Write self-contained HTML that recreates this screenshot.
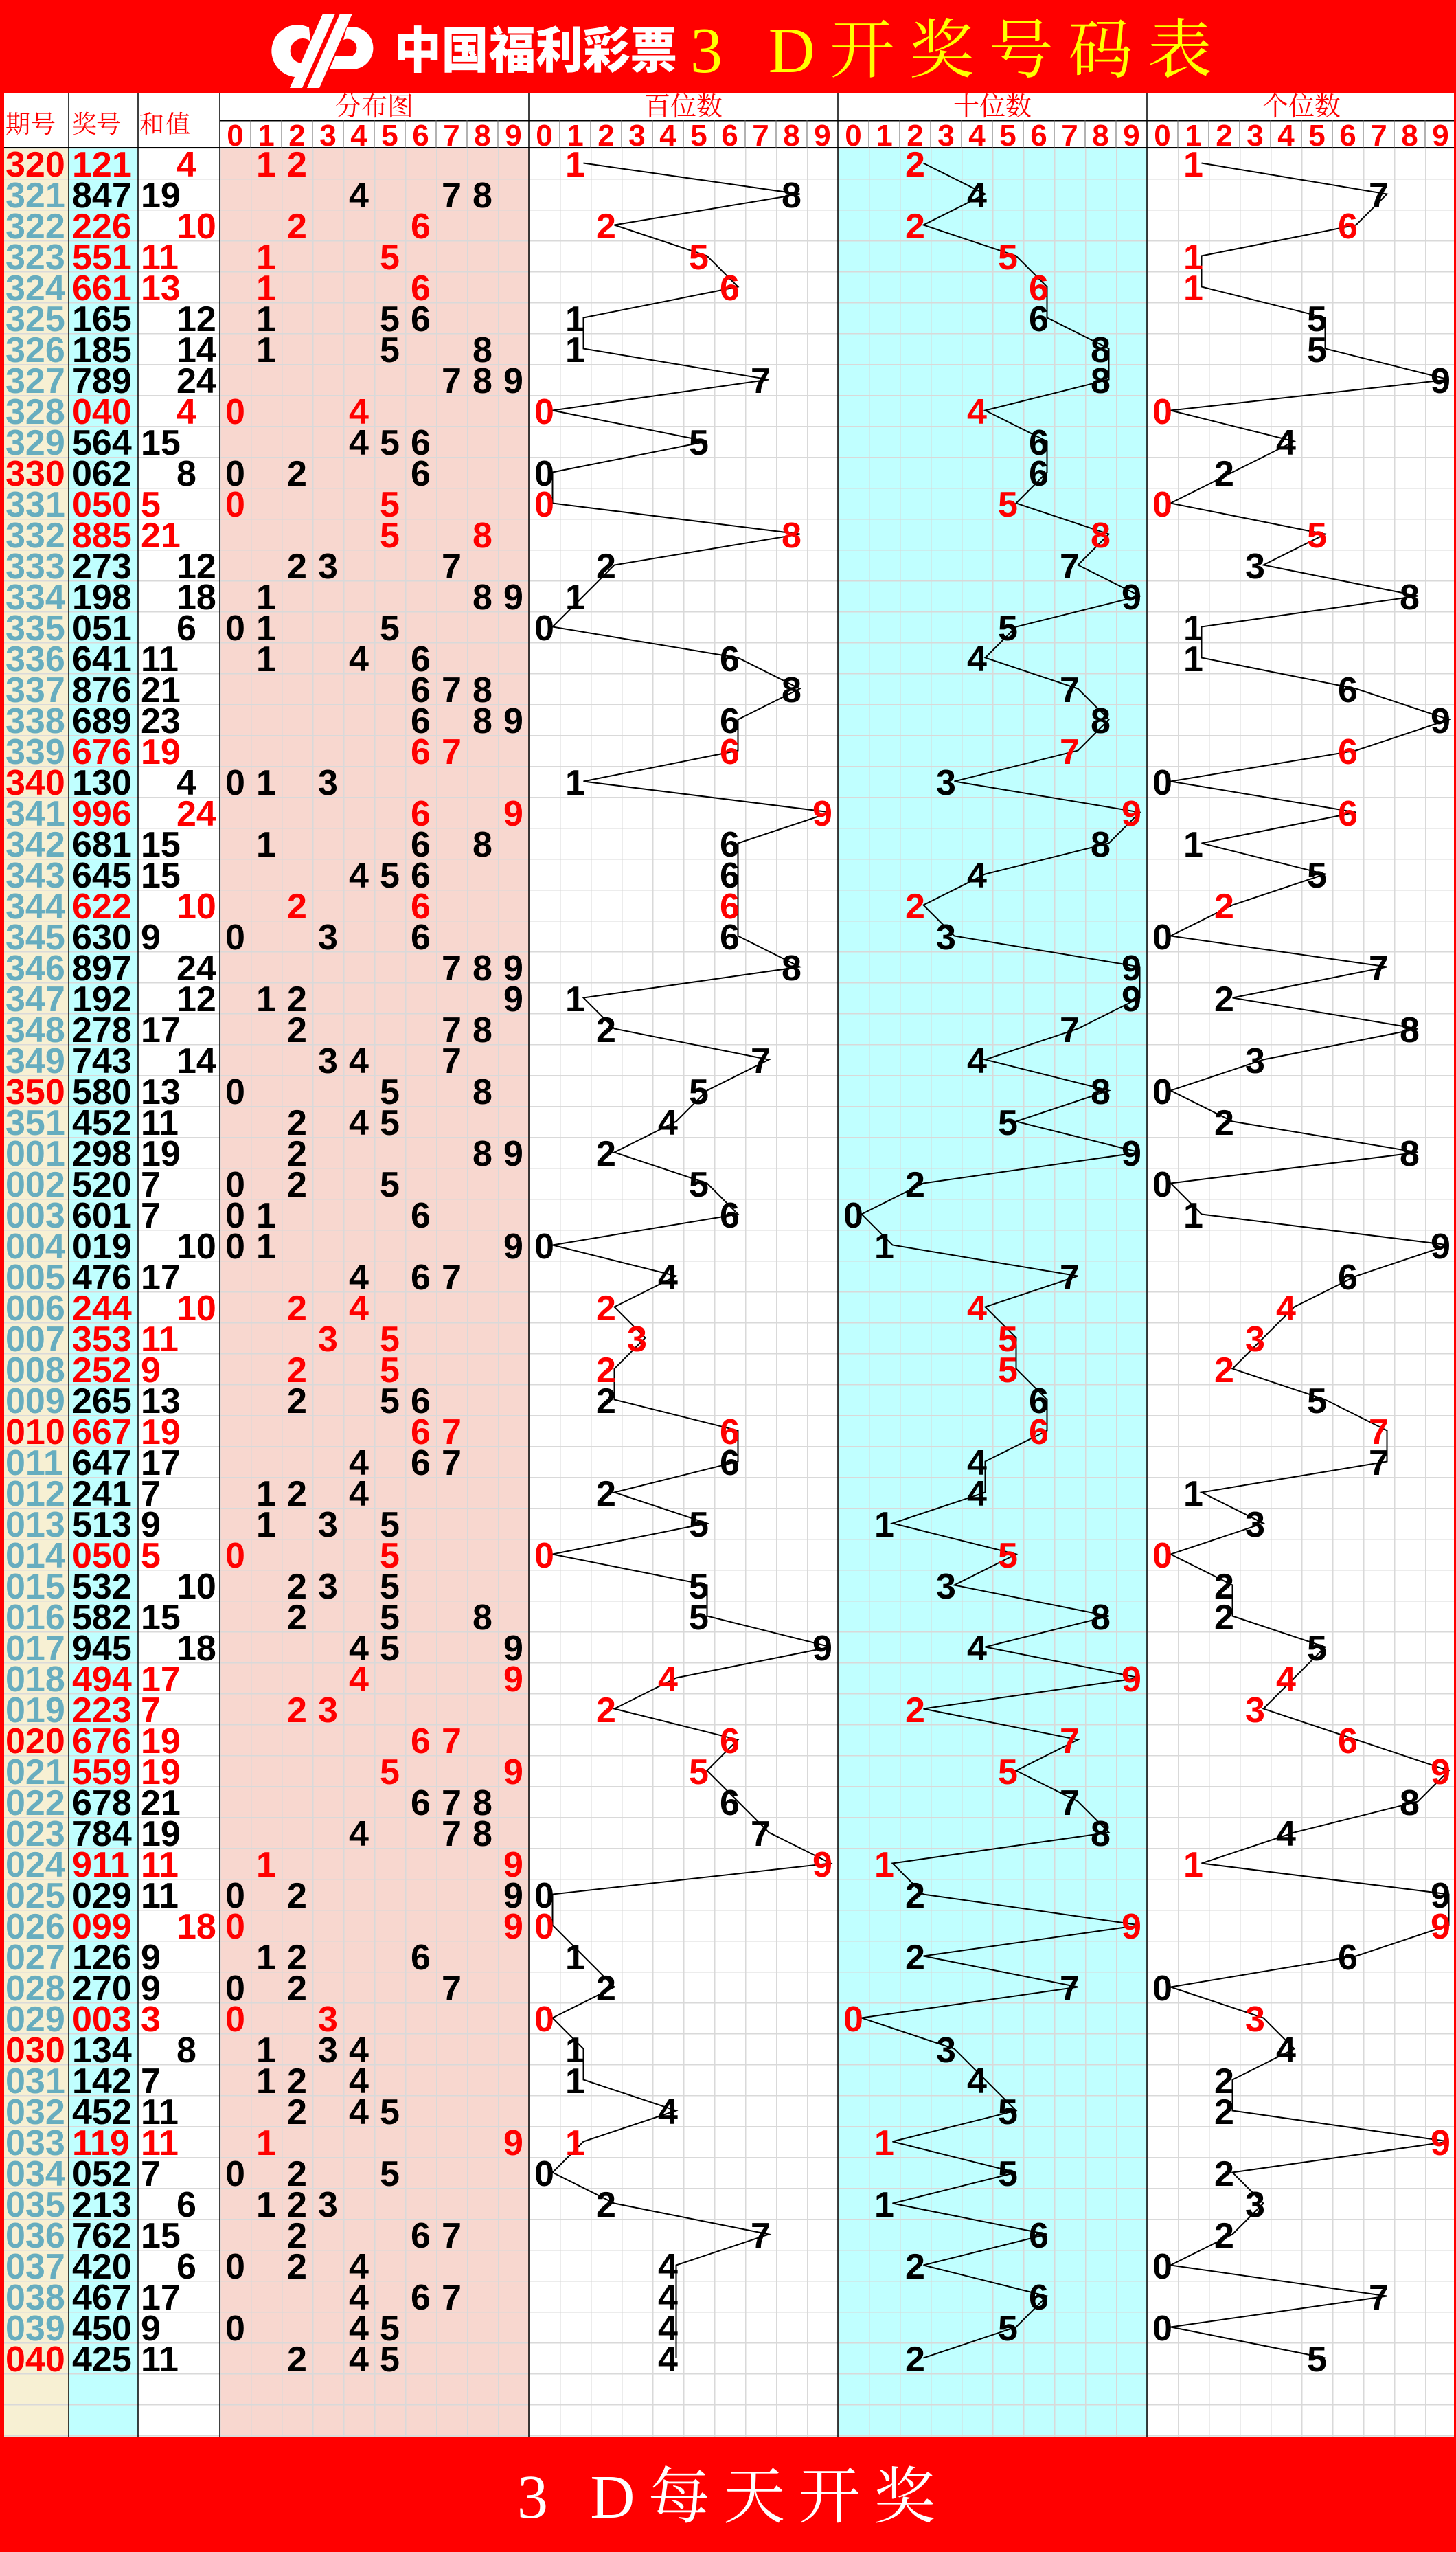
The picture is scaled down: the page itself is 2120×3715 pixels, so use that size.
<!DOCTYPE html>
<html><head><meta charset="utf-8"><style>
html,body{margin:0;padding:0;background:#f00}
svg{display:block}
text{font-family:"Liberation Sans",sans-serif;font-weight:bold;font-size:52px;fill:#000;text-anchor:middle}
.n{text-anchor:start}
.p{text-anchor:start;fill:#67adbf}
.pr{fill:#f00}
.R text{fill:#f00}
.R text.p{fill:#67adbf}
.R text.p.pr{fill:#f00}
.hd{font-family:"Liberation Serif","Noto Serif CJK SC",serif;font-weight:normal;fill:#f00}
.hn{font-size:44px;fill:#f00}
</style></head><body>
<svg width="2120" height="3715" viewBox="0 0 2120 3715" xmlns="http://www.w3.org/2000/svg">
<defs>
<pattern id="g" x="320" y="215" width="45" height="45" patternUnits="userSpaceOnUse"><path d="M0 0.75H45M0.75 0V45" stroke="#d9d9d9" stroke-width="1.5" fill="none"/></pattern>
<pattern id="h" x="0" y="215" width="45" height="45" patternUnits="userSpaceOnUse"><path d="M0 0.75H45" stroke="#d9d9d9" stroke-width="1.5" fill="none"/></pattern>
</defs>
<rect x="0" y="0" width="2120" height="3715" fill="#f00"/>
<rect x="6" y="136" width="2111" height="3411" fill="#fff"/>
<rect x="6" y="215" width="94" height="3332" fill="#f7f0d3"/>
<rect x="100" y="215" width="101" height="3332" fill="#c0ffff"/>
<rect x="320" y="215" width="450" height="3332" fill="#f8d7cf"/>
<rect x="1220" y="215" width="450" height="3332" fill="#c0ffff"/>
<rect x="6" y="215" width="314" height="3332" fill="url(#h)"/>
<rect x="320" y="215" width="1797" height="3332" fill="url(#g)"/>
<path d="M320 175.5H2117M6 215H2117" stroke="#000" stroke-width="2"/>
<path d="M365 175V215M410 175V215M455 175V215M500 175V215M545 175V215M590 175V215M635 175V215M680 175V215M725 175V215M815 175V215M860 175V215M905 175V215M950 175V215M995 175V215M1040 175V215M1085 175V215M1130 175V215M1175 175V215M1265 175V215M1310 175V215M1355 175V215M1400 175V215M1445 175V215M1490 175V215M1535 175V215M1580 175V215M1625 175V215M1715 175V215M1760 175V215M1805 175V215M1850 175V215M1895 175V215M1940 175V215M1985 175V215M2030 175V215M2075 175V215" stroke="#666" stroke-width="1"/>
<path d="M100 136V3547M201 136V3547M320 136V3547M770 136V3547M1220 136V3547M1670 136V3547" stroke="#000" stroke-width="1.5"/>
<g fill="#fff">
<path d="M470 20 L488 20 L440 128 L422 128 Z"/>
<path d="M495 20 L513 20 L465 128 L447 128 Z"/>
<path d="M450 40 A38 38 0 1 0 430 112 L440 92 A18 18 0 1 1 452 60 Z"/>
<path d="M505 40 A30 30 0 0 1 520 100 L480 100 L488 82 L512 82 A12 12 0 0 0 500 58 Z"/>
</g>
<text x="574" y="99" textLength="412" lengthAdjust="spacingAndGlyphs" style="font-family:'Noto Sans CJK SC',sans-serif;font-weight:900;font-size:72px;fill:#fff;text-anchor:start">中国福利彩票</text>
<text x="1005" y="105" textLength="760" lengthAdjust="spacing" style="font-family:'Liberation Serif','Noto Serif CJK SC',serif;font-weight:normal;font-size:94px;fill:#ff0;text-anchor:start">3 D开奖号码表</text>
<text class="hd" x="8" y="193" textLength="73" style="font-size:36px;text-anchor:start">期号</text>
<text class="hd" x="105" y="193" textLength="71" style="font-size:36px;text-anchor:start">奖号</text>
<text class="hd" x="203" y="193" textLength="74" style="font-size:36px;text-anchor:start">和值</text>
<text class="hd" x="545" y="168" style="font-size:38px">分布图</text>
<text class="hd" x="995" y="168" style="font-size:38px">百位数</text>
<text class="hd" x="1445" y="168" style="font-size:38px">十位数</text>
<text class="hd" x="1895" y="168" style="font-size:38px">个位数</text>
<g transform="translate(0,212)">
<text class="hn" x="342.5">0</text><text class="hn" x="387.5">1</text><text class="hn" x="432.5">2</text><text class="hn" x="477.5">3</text><text class="hn" x="522.5">4</text><text class="hn" x="567.5">5</text><text class="hn" x="612.5">6</text><text class="hn" x="657.5">7</text><text class="hn" x="702.5">8</text><text class="hn" x="747.5">9</text>
<text class="hn" x="792.5">0</text><text class="hn" x="837.5">1</text><text class="hn" x="882.5">2</text><text class="hn" x="927.5">3</text><text class="hn" x="972.5">4</text><text class="hn" x="1017.5">5</text><text class="hn" x="1062.5">6</text><text class="hn" x="1107.5">7</text><text class="hn" x="1152.5">8</text><text class="hn" x="1197.5">9</text>
<text class="hn" x="1242.5">0</text><text class="hn" x="1287.5">1</text><text class="hn" x="1332.5">2</text><text class="hn" x="1377.5">3</text><text class="hn" x="1422.5">4</text><text class="hn" x="1467.5">5</text><text class="hn" x="1512.5">6</text><text class="hn" x="1557.5">7</text><text class="hn" x="1602.5">8</text><text class="hn" x="1647.5">9</text>
<text class="hn" x="1692.5">0</text><text class="hn" x="1737.5">1</text><text class="hn" x="1782.5">2</text><text class="hn" x="1827.5">3</text><text class="hn" x="1872.5">4</text><text class="hn" x="1917.5">5</text><text class="hn" x="1962.5">6</text><text class="hn" x="2007.5">7</text><text class="hn" x="2052.5">8</text><text class="hn" x="2097.5">9</text>
</g>
<g fill="none" stroke="#000" stroke-width="2">
<polyline transform="translate(804.5,237.5) scale(45)" vector-effect="non-scaling-stroke" points="1,0 8,1 2,2 5,3 6,4 1,5 1,6 7,7 0,8 5,9 0,10 0,11 8,12 2,13 1,14 0,15 6,16 8,17 6,18 6,19 1,20 9,21 6,22 6,23 6,24 6,25 8,26 1,27 2,28 7,29 5,30 4,31 2,32 5,33 6,34 0,35 4,36 2,37 3,38 2,39 2,40 6,41 6,42 2,43 5,44 0,45 5,46 5,47 9,48 4,49 2,50 6,51 5,52 6,53 7,54 9,55 0,56 0,57 1,58 2,59 0,60 1,61 1,62 4,63 1,64 0,65 2,66 7,67 4,68 4,69 4,70 4,71"/>
<polyline transform="translate(1254.5,237.5) scale(45)" vector-effect="non-scaling-stroke" points="2,0 4,1 2,2 5,3 6,4 6,5 8,6 8,7 4,8 6,9 6,10 5,11 8,12 7,13 9,14 5,15 4,16 7,17 8,18 7,19 3,20 9,21 8,22 4,23 2,24 3,25 9,26 9,27 7,28 4,29 8,30 5,31 9,32 2,33 0,34 1,35 7,36 4,37 5,38 5,39 6,40 6,41 4,42 4,43 1,44 5,45 3,46 8,47 4,48 9,49 2,50 7,51 5,52 7,53 8,54 1,55 2,56 9,57 2,58 7,59 0,60 3,61 4,62 5,63 1,64 5,65 1,66 6,67 2,68 6,69 5,70 2,71"/>
<polyline transform="translate(1704.5,237.5) scale(45)" vector-effect="non-scaling-stroke" points="1,0 7,1 6,2 1,3 1,4 5,5 5,6 9,7 0,8 4,9 2,10 0,11 5,12 3,13 8,14 1,15 1,16 6,17 9,18 6,19 0,20 6,21 1,22 5,23 2,24 0,25 7,26 2,27 8,28 3,29 0,30 2,31 8,32 0,33 1,34 9,35 6,36 4,37 3,38 2,39 5,40 7,41 7,42 1,43 3,44 0,45 2,46 2,47 5,48 4,49 3,50 6,51 9,52 8,53 4,54 1,55 9,56 9,57 6,58 0,59 3,60 4,61 2,62 2,63 9,64 2,65 3,66 2,67 0,68 7,69 0,70 5,71"/>
</g>
<g transform="translate(0,257)" class="R"><text class="p pr" x="8">320</text><text class="n" x="105">121</text><text class="n" x="257">4</text><text x="387.5">1</text><text x="432.5">2</text><text x="837.5">1</text><text x="1332.5">2</text><text x="1737.5">1</text></g>
<g transform="translate(0,302)"><text class="p" x="8">321</text><text class="n" x="105">847</text><text class="n" x="205">19</text><text x="522.5">4</text><text x="657.5">7</text><text x="702.5">8</text><text x="1152.5">8</text><text x="1422.5">4</text><text x="2007.5">7</text></g>
<g transform="translate(0,347)" class="R"><text class="p" x="8">322</text><text class="n" x="105">226</text><text class="n" x="257">10</text><text x="432.5">2</text><text x="612.5">6</text><text x="882.5">2</text><text x="1332.5">2</text><text x="1962.5">6</text></g>
<g transform="translate(0,392)" class="R"><text class="p" x="8">323</text><text class="n" x="105">551</text><text class="n" x="205">11</text><text x="387.5">1</text><text x="567.5">5</text><text x="1017.5">5</text><text x="1467.5">5</text><text x="1737.5">1</text></g>
<g transform="translate(0,437)" class="R"><text class="p" x="8">324</text><text class="n" x="105">661</text><text class="n" x="205">13</text><text x="387.5">1</text><text x="612.5">6</text><text x="1062.5">6</text><text x="1512.5">6</text><text x="1737.5">1</text></g>
<g transform="translate(0,482)"><text class="p" x="8">325</text><text class="n" x="105">165</text><text class="n" x="257">12</text><text x="387.5">1</text><text x="567.5">5</text><text x="612.5">6</text><text x="837.5">1</text><text x="1512.5">6</text><text x="1917.5">5</text></g>
<g transform="translate(0,527)"><text class="p" x="8">326</text><text class="n" x="105">185</text><text class="n" x="257">14</text><text x="387.5">1</text><text x="567.5">5</text><text x="702.5">8</text><text x="837.5">1</text><text x="1602.5">8</text><text x="1917.5">5</text></g>
<g transform="translate(0,572)"><text class="p" x="8">327</text><text class="n" x="105">789</text><text class="n" x="257">24</text><text x="657.5">7</text><text x="702.5">8</text><text x="747.5">9</text><text x="1107.5">7</text><text x="1602.5">8</text><text x="2097.5">9</text></g>
<g transform="translate(0,617)" class="R"><text class="p" x="8">328</text><text class="n" x="105">040</text><text class="n" x="257">4</text><text x="342.5">0</text><text x="522.5">4</text><text x="792.5">0</text><text x="1422.5">4</text><text x="1692.5">0</text></g>
<g transform="translate(0,662)"><text class="p" x="8">329</text><text class="n" x="105">564</text><text class="n" x="205">15</text><text x="522.5">4</text><text x="567.5">5</text><text x="612.5">6</text><text x="1017.5">5</text><text x="1512.5">6</text><text x="1872.5">4</text></g>
<g transform="translate(0,707)"><text class="p pr" x="8">330</text><text class="n" x="105">062</text><text class="n" x="257">8</text><text x="342.5">0</text><text x="432.5">2</text><text x="612.5">6</text><text x="792.5">0</text><text x="1512.5">6</text><text x="1782.5">2</text></g>
<g transform="translate(0,752)" class="R"><text class="p" x="8">331</text><text class="n" x="105">050</text><text class="n" x="205">5</text><text x="342.5">0</text><text x="567.5">5</text><text x="792.5">0</text><text x="1467.5">5</text><text x="1692.5">0</text></g>
<g transform="translate(0,797)" class="R"><text class="p" x="8">332</text><text class="n" x="105">885</text><text class="n" x="205">21</text><text x="567.5">5</text><text x="702.5">8</text><text x="1152.5">8</text><text x="1602.5">8</text><text x="1917.5">5</text></g>
<g transform="translate(0,842)"><text class="p" x="8">333</text><text class="n" x="105">273</text><text class="n" x="257">12</text><text x="432.5">2</text><text x="477.5">3</text><text x="657.5">7</text><text x="882.5">2</text><text x="1557.5">7</text><text x="1827.5">3</text></g>
<g transform="translate(0,887)"><text class="p" x="8">334</text><text class="n" x="105">198</text><text class="n" x="257">18</text><text x="387.5">1</text><text x="702.5">8</text><text x="747.5">9</text><text x="837.5">1</text><text x="1647.5">9</text><text x="2052.5">8</text></g>
<g transform="translate(0,932)"><text class="p" x="8">335</text><text class="n" x="105">051</text><text class="n" x="257">6</text><text x="342.5">0</text><text x="387.5">1</text><text x="567.5">5</text><text x="792.5">0</text><text x="1467.5">5</text><text x="1737.5">1</text></g>
<g transform="translate(0,977)"><text class="p" x="8">336</text><text class="n" x="105">641</text><text class="n" x="205">11</text><text x="387.5">1</text><text x="522.5">4</text><text x="612.5">6</text><text x="1062.5">6</text><text x="1422.5">4</text><text x="1737.5">1</text></g>
<g transform="translate(0,1022)"><text class="p" x="8">337</text><text class="n" x="105">876</text><text class="n" x="205">21</text><text x="612.5">6</text><text x="657.5">7</text><text x="702.5">8</text><text x="1152.5">8</text><text x="1557.5">7</text><text x="1962.5">6</text></g>
<g transform="translate(0,1067)"><text class="p" x="8">338</text><text class="n" x="105">689</text><text class="n" x="205">23</text><text x="612.5">6</text><text x="702.5">8</text><text x="747.5">9</text><text x="1062.5">6</text><text x="1602.5">8</text><text x="2097.5">9</text></g>
<g transform="translate(0,1112)" class="R"><text class="p" x="8">339</text><text class="n" x="105">676</text><text class="n" x="205">19</text><text x="612.5">6</text><text x="657.5">7</text><text x="1062.5">6</text><text x="1557.5">7</text><text x="1962.5">6</text></g>
<g transform="translate(0,1157)"><text class="p pr" x="8">340</text><text class="n" x="105">130</text><text class="n" x="257">4</text><text x="342.5">0</text><text x="387.5">1</text><text x="477.5">3</text><text x="837.5">1</text><text x="1377.5">3</text><text x="1692.5">0</text></g>
<g transform="translate(0,1202)" class="R"><text class="p" x="8">341</text><text class="n" x="105">996</text><text class="n" x="257">24</text><text x="612.5">6</text><text x="747.5">9</text><text x="1197.5">9</text><text x="1647.5">9</text><text x="1962.5">6</text></g>
<g transform="translate(0,1247)"><text class="p" x="8">342</text><text class="n" x="105">681</text><text class="n" x="205">15</text><text x="387.5">1</text><text x="612.5">6</text><text x="702.5">8</text><text x="1062.5">6</text><text x="1602.5">8</text><text x="1737.5">1</text></g>
<g transform="translate(0,1292)"><text class="p" x="8">343</text><text class="n" x="105">645</text><text class="n" x="205">15</text><text x="522.5">4</text><text x="567.5">5</text><text x="612.5">6</text><text x="1062.5">6</text><text x="1422.5">4</text><text x="1917.5">5</text></g>
<g transform="translate(0,1337)" class="R"><text class="p" x="8">344</text><text class="n" x="105">622</text><text class="n" x="257">10</text><text x="432.5">2</text><text x="612.5">6</text><text x="1062.5">6</text><text x="1332.5">2</text><text x="1782.5">2</text></g>
<g transform="translate(0,1382)"><text class="p" x="8">345</text><text class="n" x="105">630</text><text class="n" x="205">9</text><text x="342.5">0</text><text x="477.5">3</text><text x="612.5">6</text><text x="1062.5">6</text><text x="1377.5">3</text><text x="1692.5">0</text></g>
<g transform="translate(0,1427)"><text class="p" x="8">346</text><text class="n" x="105">897</text><text class="n" x="257">24</text><text x="657.5">7</text><text x="702.5">8</text><text x="747.5">9</text><text x="1152.5">8</text><text x="1647.5">9</text><text x="2007.5">7</text></g>
<g transform="translate(0,1472)"><text class="p" x="8">347</text><text class="n" x="105">192</text><text class="n" x="257">12</text><text x="387.5">1</text><text x="432.5">2</text><text x="747.5">9</text><text x="837.5">1</text><text x="1647.5">9</text><text x="1782.5">2</text></g>
<g transform="translate(0,1517)"><text class="p" x="8">348</text><text class="n" x="105">278</text><text class="n" x="205">17</text><text x="432.5">2</text><text x="657.5">7</text><text x="702.5">8</text><text x="882.5">2</text><text x="1557.5">7</text><text x="2052.5">8</text></g>
<g transform="translate(0,1562)"><text class="p" x="8">349</text><text class="n" x="105">743</text><text class="n" x="257">14</text><text x="477.5">3</text><text x="522.5">4</text><text x="657.5">7</text><text x="1107.5">7</text><text x="1422.5">4</text><text x="1827.5">3</text></g>
<g transform="translate(0,1607)"><text class="p pr" x="8">350</text><text class="n" x="105">580</text><text class="n" x="205">13</text><text x="342.5">0</text><text x="567.5">5</text><text x="702.5">8</text><text x="1017.5">5</text><text x="1602.5">8</text><text x="1692.5">0</text></g>
<g transform="translate(0,1652)"><text class="p" x="8">351</text><text class="n" x="105">452</text><text class="n" x="205">11</text><text x="432.5">2</text><text x="522.5">4</text><text x="567.5">5</text><text x="972.5">4</text><text x="1467.5">5</text><text x="1782.5">2</text></g>
<g transform="translate(0,1697)"><text class="p" x="8">001</text><text class="n" x="105">298</text><text class="n" x="205">19</text><text x="432.5">2</text><text x="702.5">8</text><text x="747.5">9</text><text x="882.5">2</text><text x="1647.5">9</text><text x="2052.5">8</text></g>
<g transform="translate(0,1742)"><text class="p" x="8">002</text><text class="n" x="105">520</text><text class="n" x="205">7</text><text x="342.5">0</text><text x="432.5">2</text><text x="567.5">5</text><text x="1017.5">5</text><text x="1332.5">2</text><text x="1692.5">0</text></g>
<g transform="translate(0,1787)"><text class="p" x="8">003</text><text class="n" x="105">601</text><text class="n" x="205">7</text><text x="342.5">0</text><text x="387.5">1</text><text x="612.5">6</text><text x="1062.5">6</text><text x="1242.5">0</text><text x="1737.5">1</text></g>
<g transform="translate(0,1832)"><text class="p" x="8">004</text><text class="n" x="105">019</text><text class="n" x="257">10</text><text x="342.5">0</text><text x="387.5">1</text><text x="747.5">9</text><text x="792.5">0</text><text x="1287.5">1</text><text x="2097.5">9</text></g>
<g transform="translate(0,1877)"><text class="p" x="8">005</text><text class="n" x="105">476</text><text class="n" x="205">17</text><text x="522.5">4</text><text x="612.5">6</text><text x="657.5">7</text><text x="972.5">4</text><text x="1557.5">7</text><text x="1962.5">6</text></g>
<g transform="translate(0,1922)" class="R"><text class="p" x="8">006</text><text class="n" x="105">244</text><text class="n" x="257">10</text><text x="432.5">2</text><text x="522.5">4</text><text x="882.5">2</text><text x="1422.5">4</text><text x="1872.5">4</text></g>
<g transform="translate(0,1967)" class="R"><text class="p" x="8">007</text><text class="n" x="105">353</text><text class="n" x="205">11</text><text x="477.5">3</text><text x="567.5">5</text><text x="927.5">3</text><text x="1467.5">5</text><text x="1827.5">3</text></g>
<g transform="translate(0,2012)" class="R"><text class="p" x="8">008</text><text class="n" x="105">252</text><text class="n" x="205">9</text><text x="432.5">2</text><text x="567.5">5</text><text x="882.5">2</text><text x="1467.5">5</text><text x="1782.5">2</text></g>
<g transform="translate(0,2057)"><text class="p" x="8">009</text><text class="n" x="105">265</text><text class="n" x="205">13</text><text x="432.5">2</text><text x="567.5">5</text><text x="612.5">6</text><text x="882.5">2</text><text x="1512.5">6</text><text x="1917.5">5</text></g>
<g transform="translate(0,2102)" class="R"><text class="p pr" x="8">010</text><text class="n" x="105">667</text><text class="n" x="205">19</text><text x="612.5">6</text><text x="657.5">7</text><text x="1062.5">6</text><text x="1512.5">6</text><text x="2007.5">7</text></g>
<g transform="translate(0,2147)"><text class="p" x="8">011</text><text class="n" x="105">647</text><text class="n" x="205">17</text><text x="522.5">4</text><text x="612.5">6</text><text x="657.5">7</text><text x="1062.5">6</text><text x="1422.5">4</text><text x="2007.5">7</text></g>
<g transform="translate(0,2192)"><text class="p" x="8">012</text><text class="n" x="105">241</text><text class="n" x="205">7</text><text x="387.5">1</text><text x="432.5">2</text><text x="522.5">4</text><text x="882.5">2</text><text x="1422.5">4</text><text x="1737.5">1</text></g>
<g transform="translate(0,2237)"><text class="p" x="8">013</text><text class="n" x="105">513</text><text class="n" x="205">9</text><text x="387.5">1</text><text x="477.5">3</text><text x="567.5">5</text><text x="1017.5">5</text><text x="1287.5">1</text><text x="1827.5">3</text></g>
<g transform="translate(0,2282)" class="R"><text class="p" x="8">014</text><text class="n" x="105">050</text><text class="n" x="205">5</text><text x="342.5">0</text><text x="567.5">5</text><text x="792.5">0</text><text x="1467.5">5</text><text x="1692.5">0</text></g>
<g transform="translate(0,2327)"><text class="p" x="8">015</text><text class="n" x="105">532</text><text class="n" x="257">10</text><text x="432.5">2</text><text x="477.5">3</text><text x="567.5">5</text><text x="1017.5">5</text><text x="1377.5">3</text><text x="1782.5">2</text></g>
<g transform="translate(0,2372)"><text class="p" x="8">016</text><text class="n" x="105">582</text><text class="n" x="205">15</text><text x="432.5">2</text><text x="567.5">5</text><text x="702.5">8</text><text x="1017.5">5</text><text x="1602.5">8</text><text x="1782.5">2</text></g>
<g transform="translate(0,2417)"><text class="p" x="8">017</text><text class="n" x="105">945</text><text class="n" x="257">18</text><text x="522.5">4</text><text x="567.5">5</text><text x="747.5">9</text><text x="1197.5">9</text><text x="1422.5">4</text><text x="1917.5">5</text></g>
<g transform="translate(0,2462)" class="R"><text class="p" x="8">018</text><text class="n" x="105">494</text><text class="n" x="205">17</text><text x="522.5">4</text><text x="747.5">9</text><text x="972.5">4</text><text x="1647.5">9</text><text x="1872.5">4</text></g>
<g transform="translate(0,2507)" class="R"><text class="p" x="8">019</text><text class="n" x="105">223</text><text class="n" x="205">7</text><text x="432.5">2</text><text x="477.5">3</text><text x="882.5">2</text><text x="1332.5">2</text><text x="1827.5">3</text></g>
<g transform="translate(0,2552)" class="R"><text class="p pr" x="8">020</text><text class="n" x="105">676</text><text class="n" x="205">19</text><text x="612.5">6</text><text x="657.5">7</text><text x="1062.5">6</text><text x="1557.5">7</text><text x="1962.5">6</text></g>
<g transform="translate(0,2597)" class="R"><text class="p" x="8">021</text><text class="n" x="105">559</text><text class="n" x="205">19</text><text x="567.5">5</text><text x="747.5">9</text><text x="1017.5">5</text><text x="1467.5">5</text><text x="2097.5">9</text></g>
<g transform="translate(0,2642)"><text class="p" x="8">022</text><text class="n" x="105">678</text><text class="n" x="205">21</text><text x="612.5">6</text><text x="657.5">7</text><text x="702.5">8</text><text x="1062.5">6</text><text x="1557.5">7</text><text x="2052.5">8</text></g>
<g transform="translate(0,2687)"><text class="p" x="8">023</text><text class="n" x="105">784</text><text class="n" x="205">19</text><text x="522.5">4</text><text x="657.5">7</text><text x="702.5">8</text><text x="1107.5">7</text><text x="1602.5">8</text><text x="1872.5">4</text></g>
<g transform="translate(0,2732)" class="R"><text class="p" x="8">024</text><text class="n" x="105">911</text><text class="n" x="205">11</text><text x="387.5">1</text><text x="747.5">9</text><text x="1197.5">9</text><text x="1287.5">1</text><text x="1737.5">1</text></g>
<g transform="translate(0,2777)"><text class="p" x="8">025</text><text class="n" x="105">029</text><text class="n" x="205">11</text><text x="342.5">0</text><text x="432.5">2</text><text x="747.5">9</text><text x="792.5">0</text><text x="1332.5">2</text><text x="2097.5">9</text></g>
<g transform="translate(0,2822)" class="R"><text class="p" x="8">026</text><text class="n" x="105">099</text><text class="n" x="257">18</text><text x="342.5">0</text><text x="747.5">9</text><text x="792.5">0</text><text x="1647.5">9</text><text x="2097.5">9</text></g>
<g transform="translate(0,2867)"><text class="p" x="8">027</text><text class="n" x="105">126</text><text class="n" x="205">9</text><text x="387.5">1</text><text x="432.5">2</text><text x="612.5">6</text><text x="837.5">1</text><text x="1332.5">2</text><text x="1962.5">6</text></g>
<g transform="translate(0,2912)"><text class="p" x="8">028</text><text class="n" x="105">270</text><text class="n" x="205">9</text><text x="342.5">0</text><text x="432.5">2</text><text x="657.5">7</text><text x="882.5">2</text><text x="1557.5">7</text><text x="1692.5">0</text></g>
<g transform="translate(0,2957)" class="R"><text class="p" x="8">029</text><text class="n" x="105">003</text><text class="n" x="205">3</text><text x="342.5">0</text><text x="477.5">3</text><text x="792.5">0</text><text x="1242.5">0</text><text x="1827.5">3</text></g>
<g transform="translate(0,3002)"><text class="p pr" x="8">030</text><text class="n" x="105">134</text><text class="n" x="257">8</text><text x="387.5">1</text><text x="477.5">3</text><text x="522.5">4</text><text x="837.5">1</text><text x="1377.5">3</text><text x="1872.5">4</text></g>
<g transform="translate(0,3047)"><text class="p" x="8">031</text><text class="n" x="105">142</text><text class="n" x="205">7</text><text x="387.5">1</text><text x="432.5">2</text><text x="522.5">4</text><text x="837.5">1</text><text x="1422.5">4</text><text x="1782.5">2</text></g>
<g transform="translate(0,3092)"><text class="p" x="8">032</text><text class="n" x="105">452</text><text class="n" x="205">11</text><text x="432.5">2</text><text x="522.5">4</text><text x="567.5">5</text><text x="972.5">4</text><text x="1467.5">5</text><text x="1782.5">2</text></g>
<g transform="translate(0,3137)" class="R"><text class="p" x="8">033</text><text class="n" x="105">119</text><text class="n" x="205">11</text><text x="387.5">1</text><text x="747.5">9</text><text x="837.5">1</text><text x="1287.5">1</text><text x="2097.5">9</text></g>
<g transform="translate(0,3182)"><text class="p" x="8">034</text><text class="n" x="105">052</text><text class="n" x="205">7</text><text x="342.5">0</text><text x="432.5">2</text><text x="567.5">5</text><text x="792.5">0</text><text x="1467.5">5</text><text x="1782.5">2</text></g>
<g transform="translate(0,3227)"><text class="p" x="8">035</text><text class="n" x="105">213</text><text class="n" x="257">6</text><text x="387.5">1</text><text x="432.5">2</text><text x="477.5">3</text><text x="882.5">2</text><text x="1287.5">1</text><text x="1827.5">3</text></g>
<g transform="translate(0,3272)"><text class="p" x="8">036</text><text class="n" x="105">762</text><text class="n" x="205">15</text><text x="432.5">2</text><text x="612.5">6</text><text x="657.5">7</text><text x="1107.5">7</text><text x="1512.5">6</text><text x="1782.5">2</text></g>
<g transform="translate(0,3317)"><text class="p" x="8">037</text><text class="n" x="105">420</text><text class="n" x="257">6</text><text x="342.5">0</text><text x="432.5">2</text><text x="522.5">4</text><text x="972.5">4</text><text x="1332.5">2</text><text x="1692.5">0</text></g>
<g transform="translate(0,3362)"><text class="p" x="8">038</text><text class="n" x="105">467</text><text class="n" x="205">17</text><text x="522.5">4</text><text x="612.5">6</text><text x="657.5">7</text><text x="972.5">4</text><text x="1512.5">6</text><text x="2007.5">7</text></g>
<g transform="translate(0,3407)"><text class="p" x="8">039</text><text class="n" x="105">450</text><text class="n" x="205">9</text><text x="342.5">0</text><text x="522.5">4</text><text x="567.5">5</text><text x="972.5">4</text><text x="1467.5">5</text><text x="1692.5">0</text></g>
<g transform="translate(0,3452)"><text class="p pr" x="8">040</text><text class="n" x="105">425</text><text class="n" x="205">11</text><text x="432.5">2</text><text x="522.5">4</text><text x="567.5">5</text><text x="972.5">4</text><text x="1332.5">2</text><text x="1917.5">5</text></g>
<rect x="0" y="3547" width="2120" height="168" fill="#f00"/>
<text x="753" y="3665" textLength="609" lengthAdjust="spacing" style="font-family:'Liberation Serif','Noto Serif CJK SC',serif;font-weight:normal;font-size:90px;fill:#fff;text-anchor:start">3 D每天开奖</text>
</svg>
</body></html>
